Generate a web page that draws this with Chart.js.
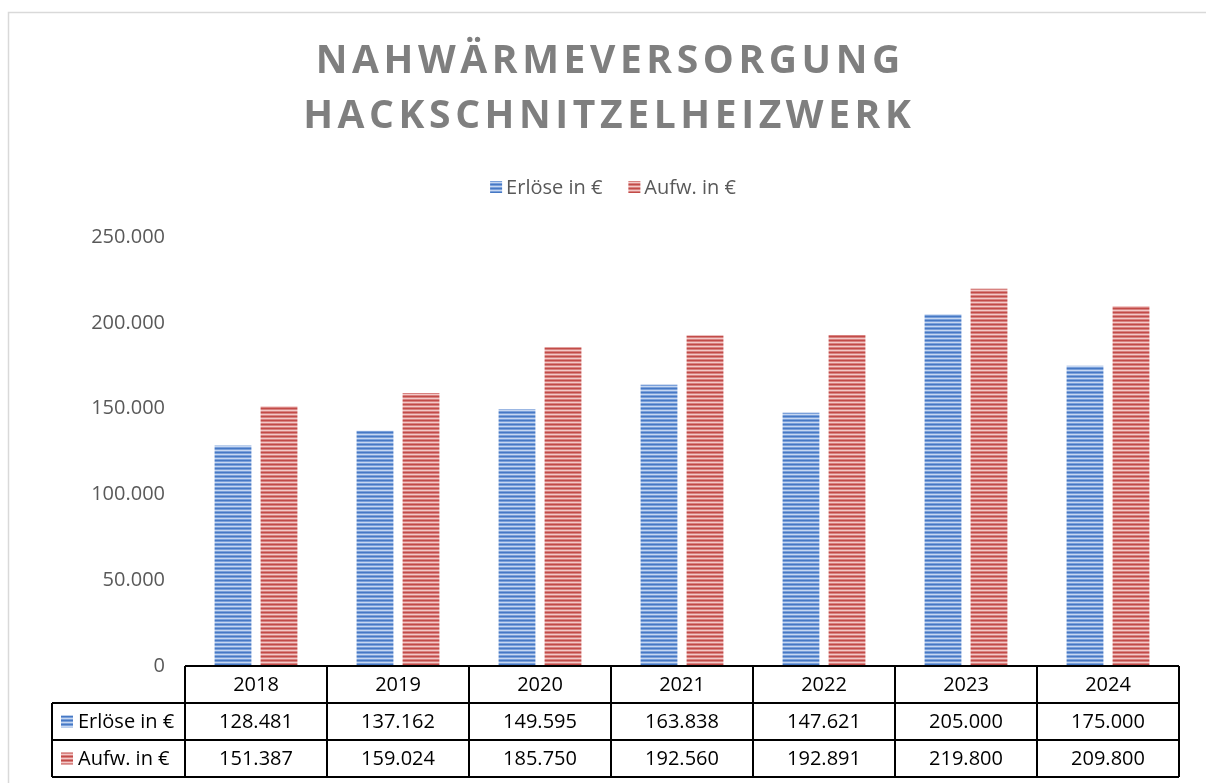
<!DOCTYPE html>
<html lang="de">
<head>
<meta charset="utf-8">
<title>Nahwärmeversorgung Hackschnitzelheizwerk</title>
<script src="https://cdn.jsdelivr.net/npm/chart.js@4.4.1/dist/chart.umd.min.js"></script>
<style>
  html, body { margin: 0; padding: 0; background: #ffffff; }
  #wrap { width: 1206px; height: 783px; }
</style>
</head>
<body>
<div id="wrap"><canvas id="chart" width="1206" height="783"></canvas></div>
<script>
// Chart data
const years = ['2018', '2019', '2020', '2021', '2022', '2023', '2024'];
const erloese = [128481, 137162, 149595, 163838, 147621, 205000, 175000];
const aufwand = [151387, 159024, 185750, 192560, 192891, 219800, 209800];
const seriesNames = ['Erlöse in €', 'Aufw. in €'];
const titleLines = ['NAHWÄRMEVERSORGUNG', 'HACKSCHNITZELHEIZWERK'];
const yTicks = [0, 50000, 100000, 150000, 200000, 250000];

const FONT = '"Open Sans", "Liberation Sans", sans-serif';

// Horizontal stripe fill, like an Office "horizontal lines" pattern
function stripes(dark, mid, light) {
  const c = document.createElement('canvas');
  c.width = 4; c.height = 4;
  const g = c.getContext('2d');
  g.fillStyle = dark;  g.fillRect(0, 0, 4, 1);
  g.fillStyle = mid;   g.fillRect(0, 1, 4, 1);
  g.fillStyle = light; g.fillRect(0, 2, 4, 1);
  g.fillStyle = mid;   g.fillRect(0, 3, 4, 1);
  return g.createPattern(c, 'repeat');
}
const blueFill = stripes('#4678c4', '#7aa0da', '#c6d7f1');
const redFill = stripes('#c24b48', '#d88280', '#f3c9c8');

const fmt = v => v.toLocaleString('de-DE');

// Frame, title, legend and the data table underneath the plot
const decorations = {
  id: 'decorations',
  beforeDraw(chart) {
    const ctx = chart.ctx;
    ctx.save();
    ctx.fillStyle = '#ffffff';
    ctx.fillRect(0, 0, chart.width, chart.height);
    ctx.strokeStyle = '#d9d9d9';
    ctx.lineWidth = 1.5;
    ctx.beginPath();
    ctx.moveTo(8.5, chart.height);
    ctx.lineTo(8.5, 12.5);
    ctx.lineTo(chart.width, 12.5);
    ctx.stroke();
    ctx.restore();
  },
  afterDraw(chart) {
    const ctx = chart.ctx;
    const area = chart.chartArea;
    const x = chart.scales.x;

    // Title with wide letter spacing
    ctx.save();
    ctx.fillStyle = '#7f7f7f';
    ctx.font = 'bold 39px ' + FONT;
    ctx.letterSpacing = '4.6px';
    ctx.textAlign = 'center';
    ctx.textBaseline = 'middle';
    ctx.fillText(titleLines[0], 608 + 2.3, 62);
    ctx.fillText(titleLines[1], 607 + 2.3, 117);
    ctx.restore();

    // Legend
    ctx.save();
    ctx.font = '20px ' + FONT;
    ctx.fillStyle = '#595959';
    ctx.textBaseline = 'middle';
    const fills = [blueFill, redFill];
    const box = 12, gapBox = 4, gapItem = 26;
    const widths = seriesNames.map(n => box + gapBox + ctx.measureText(n).width);
    const total = widths[0] + gapItem + widths[1];
    let lx = 613 - total / 2;
    const ly = 187;
    seriesNames.forEach((n, i) => {
      ctx.fillStyle = fills[i];
      ctx.fillRect(lx, ly - box / 2, box, box);
      ctx.fillStyle = '#595959';
      ctx.fillText(n, lx + box + gapBox, ly + 1);
      lx += widths[i] + gapItem;
    });
    ctx.restore();

    // Data table below the plot
    const n = years.length;
    const colW = (area.right - area.left) / n;
    const top = area.bottom;
    const rowH = 37;
    const r1 = top + rowH, r2 = top + 2 * rowH, r3 = top + 3 * rowH;
    const labelLeft = 52;

    ctx.save();
    ctx.strokeStyle = '#000000';
    ctx.lineWidth = 2;
    ctx.beginPath();
    ctx.moveTo(area.left, top); ctx.lineTo(area.right, top);
    [r1, r2, r3].forEach(y => { ctx.moveTo(labelLeft, y); ctx.lineTo(area.right, y); });
    ctx.moveTo(labelLeft, r1); ctx.lineTo(labelLeft, r3);
    for (let i = 0; i <= n; i++) {
      const xx = area.left + i * colW;
      ctx.moveTo(xx, top); ctx.lineTo(xx, r3);
    }
    ctx.stroke();

    ctx.fillStyle = '#000000';
    ctx.font = '20px ' + FONT;
    ctx.textAlign = 'center';
    ctx.textBaseline = 'middle';
    years.forEach((yr, i) => {
      const px = x.getPixelForValue(i);
      ctx.fillText(yr, px, top + rowH / 2 + 1);
      ctx.fillText(fmt(erloese[i]), px, r1 + rowH / 2 + 1);
      ctx.fillText(fmt(aufwand[i]), px, r2 + rowH / 2 + 1);
    });

    ctx.textAlign = 'left';
    [[r1, blueFill, seriesNames[0]], [r2, redFill, seriesNames[1]]].forEach(([ry, f, name]) => {
      const my = ry + rowH / 2;
      ctx.fillStyle = f;
      ctx.fillRect(61, my - 6, 12, 12);
      ctx.fillStyle = '#000000';
      ctx.fillText(name, 78, my + 1);
    });
    ctx.restore();
  }
};

new Chart(document.getElementById('chart'), {
  type: 'bar',
  data: {
    labels: years,
    datasets: [
      { label: seriesNames[0], data: erloese, backgroundColor: blueFill,
        categoryPercentage: 0.648, barPercentage: 0.8 },
      { label: seriesNames[1], data: aufwand, backgroundColor: redFill,
        categoryPercentage: 0.648, barPercentage: 0.8 }
    ]
  },
  options: {
    responsive: false,
    animation: false,
    layout: { padding: { top: 237, right: 27, bottom: 117, left: 0 } },
    plugins: {
      legend: { display: false },
      title: { display: false },
      tooltip: { enabled: false }
    },
    scales: {
      x: { display: false },
      y: {
        min: 0,
        max: 250000,
        afterBuildTicks(scale) { scale.ticks = yTicks.map(v => ({ value: v })); },
        afterFit(scale) { scale.width = 185; },
        grid: { display: false, drawTicks: false },
        border: { display: false },
        ticks: {
          padding: 20,
          color: '#595959',
          font: { family: FONT, size: 20 },
          callback: v => fmt(v)
        }
      }
    }
  },
  plugins: [decorations]
});
</script>
</body>
</html>
